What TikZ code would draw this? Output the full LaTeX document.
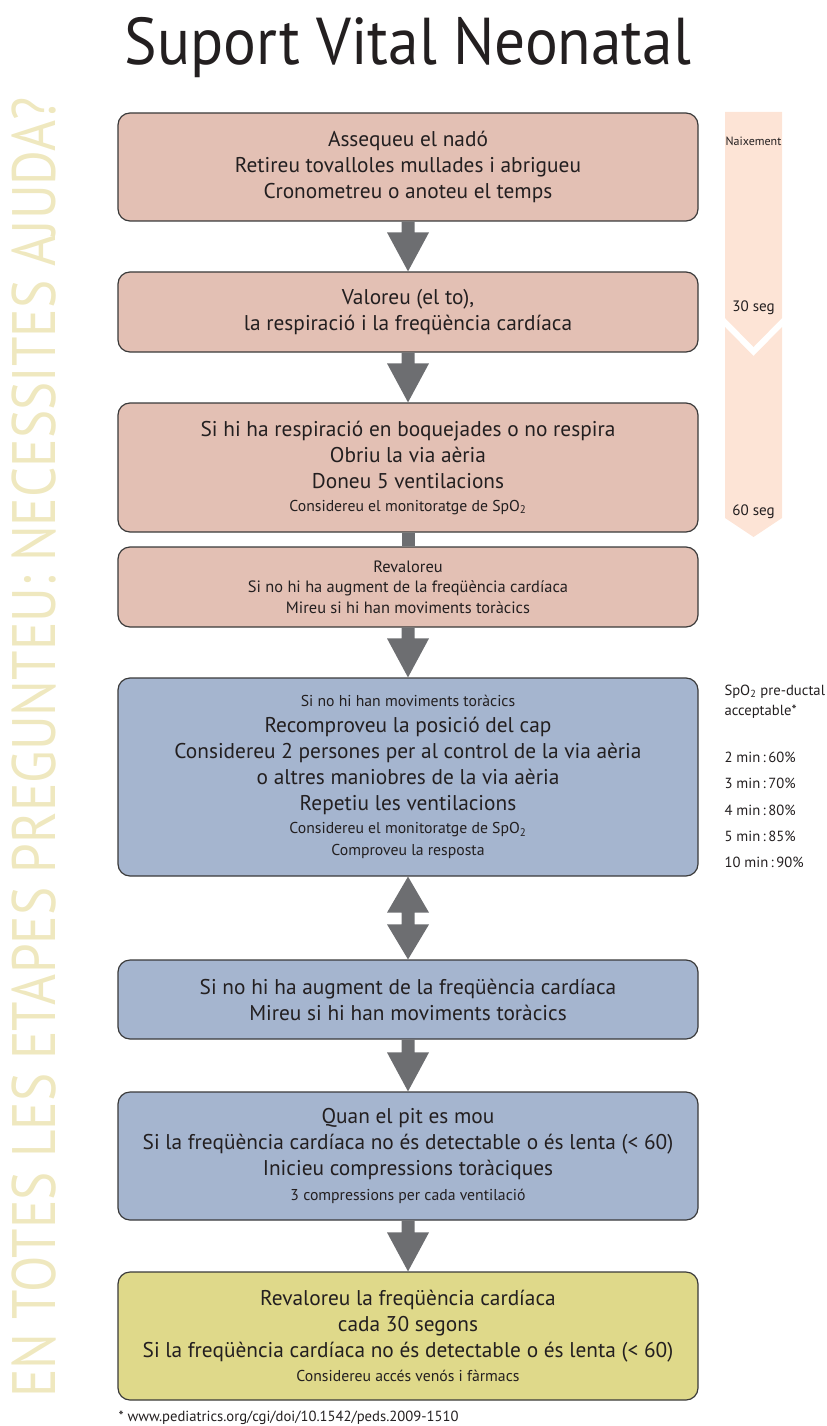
\documentclass[tikz,border=0pt]{standalone}
\usepackage{fontspec}
\setmainfont{PT Sans}
\usetikzlibrary{calc}

\definecolor{stepPink}{HTML}{E3C0B4}
\definecolor{stepBlue}{HTML}{A5B5CF}
\definecolor{stepYellow}{HTML}{DFD98A}
\definecolor{arrowGray}{HTML}{6D6E71}
\definecolor{timePeach}{HTML}{FDE4D6}
\definecolor{sideYellow}{HTML}{EFE8BF}
\definecolor{boxLine}{HTML}{3A3A3A}
\definecolor{textDark}{HTML}{231F20}

\newcommand{\bigline}{\fontsize{16}{19.5}\selectfont}
\newcommand{\smallline}{\fontsize{11.8}{15}\selectfont}
\newcommand{\tinyline}{\fontsize{9}{10}\selectfont}

% block arrow from the bottom of one box to the top of the next
\newcommand{\flowarrow}[2]{%
  \fill[arrowGray] ($(#1.south)+(-6.5,0)$) -- ($(#1.south)+(6.5,0)$) -- ($(#2.north)+(6.5,-39)$) -- ($(#2.north)+(21,-39)$) -- (#2.north) -- ($(#2.north)+(-21,-39)$) -- ($(#2.north)+(-6.5,-39)$) -- cycle;}

\tikzset{every picture/.style={line width=0.75pt}}
\tikzset{
  stepbox/.style={draw=boxLine, line width=0.9pt, rounded corners=9pt, minimum width=435pt, inner sep=0pt, align=center, text=textDark, font=\bigline},
  pinkbox/.style={stepbox, fill=stepPink},
  bluebox/.style={stepbox, fill=stepBlue},
  yellowbox/.style={stepbox, fill=stepYellow},
  timelabel/.style={text=textDark, inner sep=0pt},
  spolabel/.style={anchor=base west, text=textDark, inner sep=0pt, font=\fontsize{11}{13}\selectfont}
}

\begin{document}
\begin{tikzpicture}[x=0.75pt,y=0.75pt,yscale=-1,xscale=1]
    \useasboundingbox (0,0) rectangle (826,1426);
    % Title
    \node[anchor=base, text=textDark, inner sep=0pt, font=\fontsize{46}{46}\selectfont] (title) at (408,65) {\scalebox{1}[1.08]{Suport Vital Neonatal}};
    % Side note
    \node[rotate=90, anchor=base, text=sideYellow, inner sep=0pt, font=\fontsize{46}{46}\selectfont] (sidenote) at (55,747.5) {\scalebox{0.867}[1]{EN TOTES LES ETAPES PREGUNTEU: NECESSITES AJUDA?}};
    % Timeline
    \fill[timePeach] (725,112) -- (782,112) -- (782,318) -- (753.5,347) -- (725,318) -- cycle;
    \fill[timePeach] (725,327) -- (753.5,356) -- (782,327) -- (782,518) -- (753.5,537) -- (725,518) -- cycle;
    \node[timelabel, font=\tinyline] (birth) at (753.5,141) {Naixement};
    \node[timelabel, font=\fontsize{11.3}{13}\selectfont] (sec30) at (753.5,308) {30 seg};
    \node[timelabel, font=\fontsize{11.3}{13}\selectfont] (sec60) at (753.5,512) {60 seg};
    % Text Node
    \node[pinkbox, minimum height=81pt] (dry) at (408,167) {Assequeu el nadó\\ Retireu tovalloles mullades i abrigueu\\ Cronometreu o anoteu el temps};
    % Text Node
    \node[pinkbox, minimum height=60pt] (assess) at (408,312) {Valoreu (el to),\\ la respiració i la freqüència cardíaca};
    % Text Node
    \node[pinkbox, minimum height=96.75pt] (inflate) at (408,467.5) {Si hi ha respiració en boquejades o no respira\\ Obriu la via aèria\\ Doneu 5 ventilacions\\[-2.25pt] \smallline Considereu el monitoratge de SpO\textsubscript{2}};
    % Text Node
    \node[pinkbox, minimum height=60pt, font=\fontsize{12.3}{15.5}\selectfont] (reassess) at (408,587) {Revaloreu\\ Si no hi ha augment de la freqüència cardíaca\\ Mireu si hi han moviments toràcics};
    % Text Node
    \node[bluebox, minimum height=148.5pt] (airway) at (408,777) {\smallline Si no hi han moviments toràcics\\ Recomproveu la posició del cap\\ Considereu 2 persones per al control de la via aèria\\ o altres maniobres de la via aèria\\ Repetiu les ventilacions\\[-2.25pt] \smallline Considereu el monitoratge de SpO\textsubscript{2}\\[-3pt] \smallline Comproveu la resposta};
    % Text Node
    \node[bluebox, minimum height=59.25pt] (noincrease) at (408,999.5) {Si no hi ha augment de la freqüència cardíaca\\ Mireu si hi han moviments toràcics};
    % Text Node
    \node[bluebox, minimum height=96pt] (compress) at (408,1156) {Quan el pit es mou\\ Si la freqüència cardíaca no és detectable o és lenta (< 60)\\ Inicieu compressions toràciques\\[-1pt] \smallline 3 compressions per cada ventilació};
    % Text Node
    \node[yellowbox, minimum height=96pt] (drugs) at (408,1336) {Revaloreu la freqüència cardíaca\\ cada 30 segons\\ Si la freqüència cardíaca no és detectable o és lenta (< 60)\\[-1.5pt] \smallline Considereu accés venós i fàrmacs};
    % SpO2 table
    \node[spolabel] (spohead) at (724,695) {SpO\textsubscript{2} pre-ductal};
    \node[spolabel] (spohead2) at (724,715) {acceptable*};
    \node[spolabel] (spo2min) at (724,762) {2 min\,:\,60\%};
    \node[spolabel] (spo3min) at (724,788) {3 min\,:\,70\%};
    \node[spolabel] (spo4min) at (724,815) {4 min\,:\,80\%};
    \node[spolabel] (spo5min) at (724,841) {5 min\,:\,85\%};
    \node[spolabel] (spo10min) at (724,867) {10 min\,:\,90\%};
    % Footnote
    \node[spolabel] (source) at (118,1421) {* www.pediatrics.org/cgi/doi/10.1542/peds.2009-1510};
    % Connection
    \flowarrow{dry}{assess}
    % Connection
    \flowarrow{assess}{inflate}
    % Connection
    \fill[arrowGray] ($(inflate.south)+(-6.5,0)$) rectangle ($(reassess.north)+(6.5,0)$);
    % Connection
    \flowarrow{reassess}{airway}
    % Connection
    \fill[arrowGray] (airway.south) -- ($(airway.south)+(21,36)$) -- ($(airway.south)+(6.5,36)$) -- ($(noincrease.north)+(6.5,-35)$) -- ($(noincrease.north)+(21,-35)$) -- (noincrease.north) -- ($(noincrease.north)+(-21,-35)$) -- ($(noincrease.north)+(-6.5,-35)$) -- ($(airway.south)+(-6.5,36)$) -- ($(airway.south)+(-21,36)$) -- cycle;
    % Connection
    \flowarrow{noincrease}{compress}
    % Connection
    \flowarrow{compress}{drugs}
\end{tikzpicture}
\end{document}
